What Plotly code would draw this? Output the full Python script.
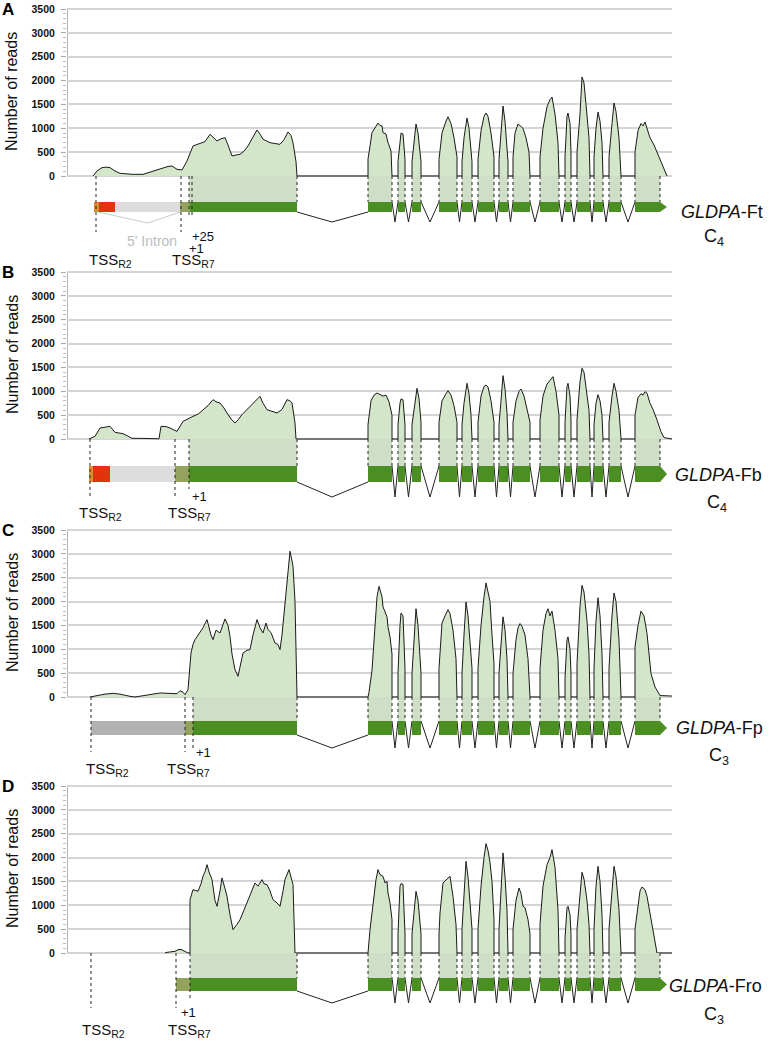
import plotly.graph_objects as go

# ---- read coverage (position, number of reads) for each library ----
COV_A = [
    # 5' region / first exon
    (93, 0), (97, 105), (102, 175), (106, 185), (110, 175), (115, 105), (120, 56), (127, 40),
    (133, 35), (143, 35), (153, 105), (158, 140), (163, 175), (168, 200), (172, 210), (177, 140),
    (182, 126), (187, 315), (193, 630), (200, 685), (205, 720), (210, 874), (213, 820), (217, 734),
    (221, 780), (225, 804), (228, 650), (232, 420), (236, 440), (240, 454), (244, 520), (248, 630),
    (252, 780), (257, 965), (260, 880), (263, 769), (266, 740), (270, 699), (275, 680), (280, 664),
    (284, 760), (288, 923), (291, 850), (293, 699), (296, 300), (297, 0),
    # exons 2..15
    (368, 0), (368, 350), (372, 910), (375, 1020), (378, 1110), (380, 1060), (382, 1050), (383, 910),
    (386, 880), (388, 700), (391, 525), (392, 0),
    (398, 0), (398, 300), (400, 800), (401, 900), (403, 880), (404, 600), (405, 350), (405, 0),
    (412, 0), (412, 300), (414, 700), (416, 1090), (418, 900), (420, 500), (421, 300), (421, 0),
    (439, 0), (439, 350), (442, 900), (446, 1150), (448, 1240), (451, 1100), (454, 800), (457, 400), (457, 0),
    (462, 0), (462, 300), (464, 800), (467, 1215), (469, 1000), (471, 600), (472, 300), (472, 0),
    (478, 0), (478, 350), (481, 950), (484, 1250), (486, 1320), (488, 1250), (491, 900), (494, 400), (494, 0),
    (499, 0), (499, 350), (501, 900), (503, 1467), (505, 1150), (507, 600), (508, 300), (508, 0),
    (513, 0), (513, 400), (515, 900), (518, 1090), (520, 1050), (523, 1000), (526, 800), (529, 500), (530, 0),
    (540, 0), (540, 400), (543, 1000), (547, 1450), (550, 1600), (552, 1655), (555, 1300), (558, 700), (559, 0),
    (565, 0), (565, 400), (567, 1250), (568, 1320), (570, 1100), (571, 500), (571, 0),
    (577, 0), (577, 500), (580, 1300), (582, 2075), (584, 1950), (586, 1500), (589, 800), (590, 0),
    (594, 0), (594, 400), (596, 1000), (598, 1340), (600, 1150), (602, 700), (603, 0),
    (609, 0), (609, 400), (612, 1100), (614, 1530), (616, 1350), (619, 800), (621, 0),
    (635, 0), (635, 500), (638, 950), (641, 1100), (643, 1050), (645, 1130), (647, 1000), (650, 800),
    (654, 650), (658, 450), (662, 250), (667, 0),
]

COV_B = [
    (89, 0), (95, 56), (100, 230), (105, 250), (110, 265), (115, 140), (120, 120), (123, 112),
    (128, 60), (132, 14), (140, 14), (153, 14), (159, 5), (161, 265), (166, 260), (170, 230),
    (177, 160), (183, 370), (188, 430), (193, 475), (198, 520), (203, 615), (208, 700), (213, 825),
    (216, 780), (220, 755), (224, 650), (227, 545), (231, 420), (235, 335), (238, 400), (242, 510),
    (247, 620), (252, 720), (256, 800), (260, 895), (263, 750), (267, 615), (272, 580), (277, 545),
    (282, 620), (287, 825), (290, 800), (292, 755), (295, 335), (296, 0),
    (368, 0), (368, 300), (371, 800), (374, 920), (377, 965), (380, 940), (383, 900), (386, 920),
    (389, 780), (392, 500), (392, 0),
    (398, 0), (398, 300), (400, 750), (401, 840), (403, 820), (404, 550), (405, 300), (405, 0),
    (412, 0), (412, 300), (414, 650), (417, 1063), (419, 850), (421, 350), (421, 0),
    (439, 0), (439, 350), (442, 800), (446, 950), (448, 1013), (451, 920), (454, 700), (457, 350), (457, 0),
    (462, 0), (462, 300), (464, 750), (467, 1167), (469, 950), (471, 500), (472, 0),
    (478, 0), (478, 350), (481, 900), (484, 1100), (486, 1132), (488, 1090), (491, 800), (494, 350), (494, 0),
    (499, 0), (499, 300), (501, 800), (503, 1328), (505, 1050), (507, 550), (508, 0),
    (513, 0), (513, 350), (516, 800), (519, 1000), (521, 1048), (524, 900), (527, 650), (530, 350), (530, 0),
    (540, 0), (540, 400), (543, 900), (547, 1150), (551, 1250), (553, 1307), (556, 1000), (559, 500), (559, 0),
    (565, 0), (565, 350), (567, 1100), (568, 1167), (570, 900), (571, 400), (571, 0),
    (577, 0), (577, 400), (580, 1200), (582, 1482), (584, 1400), (586, 1100), (589, 600), (590, 0),
    (594, 0), (594, 300), (596, 750), (598, 930), (600, 800), (602, 500), (603, 0),
    (609, 0), (609, 350), (612, 900), (614, 1167), (616, 1000), (619, 600), (621, 0),
    (635, 0), (635, 500), (638, 870), (641, 950), (643, 920), (645, 993), (647, 960), (650, 750),
    (653, 620), (657, 400), (661, 150), (664, 30), (667, 20), (672, 0),
]

COV_C = [
    (90, 0), (100, 49), (105, 60), (113, 77), (120, 60), (130, 14), (135, 0), (138, 10), (143, 28),
    (150, 50), (160, 84), (170, 75), (177, 70), (180, 133), (183, 100), (185, 49), (188, 154),
    (191, 923), (193, 1100), (195, 1202), (198, 1300), (200, 1342), (203, 1450), (207, 1622),
    (209, 1450), (211, 1300), (213, 1202), (216, 1400), (220, 1342), (223, 1500), (225, 1636),
    (228, 1500), (230, 1272), (232, 900), (235, 573), (238, 433), (241, 700), (243, 923), (247, 980),
    (250, 993), (253, 1300), (257, 1622), (260, 1450), (263, 1342), (266, 1550), (268, 1412),
    (271, 1350), (275, 1132), (278, 1100), (280, 993), (282, 1300), (285, 1971), (288, 2700),
    (290, 3055), (292, 2850), (293, 2740), (295, 2000), (297, 0),
    (368, 0), (369, 100), (372, 560), (373, 910), (375, 1600), (377, 2100), (379, 2320), (382, 2100),
    (383, 1890), (387, 1680), (388, 1470), (390, 1260), (392, 900), (392, 0),
    (398, 0), (398, 500), (400, 1500), (401, 1760), (403, 1700), (404, 1100), (405, 600), (405, 0),
    (412, 0), (412, 500), (414, 1200), (416, 1850), (418, 1500), (420, 900), (421, 500), (421, 0),
    (439, 0), (439, 600), (442, 1550), (445, 1700), (448, 1830), (450, 1750), (453, 1400), (456, 800), (457, 0),
    (462, 0), (462, 500), (464, 1300), (466, 1990), (468, 1700), (470, 1100), (472, 600), (472, 0),
    (478, 0), (478, 600), (481, 1500), (484, 2100), (486, 2390), (488, 2200), (490, 2000), (492, 1300),
    (494, 700), (494, 0),
    (499, 0), (499, 500), (501, 1200), (503, 1680), (505, 1400), (507, 800), (508, 0),
    (513, 0), (513, 500), (516, 1200), (518, 1450), (520, 1540), (522, 1480), (525, 1300), (528, 800), (530, 0),
    (540, 0), (540, 600), (543, 1400), (546, 1750), (548, 1850), (550, 1700), (552, 1800), (555, 1400),
    (558, 800), (559, 0),
    (565, 0), (565, 400), (567, 1200), (568, 1260), (570, 1000), (571, 500), (571, 0),
    (577, 0), (577, 700), (580, 1900), (582, 2340), (584, 2200), (587, 1600), (589, 900), (590, 0),
    (594, 0), (594, 600), (596, 1600), (598, 2080), (600, 1700), (602, 900), (603, 0),
    (609, 0), (609, 600), (612, 1700), (614, 2180), (616, 2000), (619, 1200), (621, 0),
    (635, 0), (635, 1050), (638, 1500), (641, 1800), (644, 1700), (647, 1330), (649, 900), (651, 490),
    (655, 210), (660, 30), (672, 20),
]

COV_D = [
    (165, 0), (167, 14), (175, 35), (178, 70), (181, 75), (184, 40), (186, 14), (188, 0), (190, 0),
    (190, 1118), (193, 1328), (196, 1300), (198, 1293), (201, 1450), (203, 1608), (205, 1700),
    (207, 1852), (209, 1700), (212, 1538), (215, 1100), (217, 979), (220, 1300), (222, 1573),
    (225, 1350), (227, 1188), (230, 800), (233, 489), (237, 600), (240, 699), (244, 900), (247, 1049),
    (251, 1250), (255, 1468), (258, 1400), (262, 1538), (264, 1450), (267, 1433), (270, 1300),
    (273, 1118), (277, 1050), (280, 979), (283, 1300), (285, 1538), (289, 1748), (291, 1600),
    (293, 1433), (295, 0),
    (368, 0), (370, 490), (373, 1050), (376, 1540), (378, 1748), (380, 1643), (383, 1608), (385, 1468),
    (387, 1503), (388, 1258), (390, 1049), (392, 700), (392, 0),
    (398, 0), (398, 400), (400, 1400), (401, 1454), (403, 1440), (404, 900), (405, 400), (405, 0),
    (412, 0), (412, 400), (414, 900), (416, 1293), (418, 1100), (420, 700), (421, 400), (421, 0),
    (439, 0), (439, 400), (440, 840), (443, 1468), (447, 1538), (450, 1608), (453, 1188), (456, 600), (457, 0),
    (462, 0), (462, 500), (464, 1300), (466, 1922), (468, 1600), (470, 1000), (472, 500), (472, 0),
    (478, 0), (478, 500), (481, 1400), (484, 2000), (486, 2293), (488, 2150), (490, 1900), (492, 1500),
    (494, 700), (494, 0),
    (499, 0), (499, 500), (501, 1300), (503, 2097), (505, 1600), (507, 900), (508, 0),
    (513, 0), (513, 500), (516, 1100), (519, 1363), (521, 1250), (523, 980), (525, 950), (528, 700),
    (530, 400), (530, 0),
    (540, 0), (540, 600), (543, 1400), (547, 1850), (550, 2000), (552, 2167), (555, 1800), (558, 900), (559, 0),
    (565, 0), (565, 300), (567, 950), (568, 979), (570, 800), (571, 400), (571, 0),
    (577, 0), (577, 500), (580, 1300), (582, 1692), (584, 1550), (587, 1100), (589, 600), (590, 0),
    (594, 0), (594, 500), (596, 1400), (598, 1817), (600, 1500), (602, 800), (603, 0),
    (609, 0), (609, 500), (612, 1400), (614, 1817), (616, 1600), (619, 900), (621, 0),
    (635, 0), (635, 500), (638, 1000), (640, 1300), (642, 1384), (645, 1328), (647, 1188), (650, 839),
    (653, 489), (656, 200), (657, 0), (672, 0),
]

# ---- gene model ----
EXON_START = [368, 398, 412, 439, 462, 478, 499, 513, 540, 565, 577, 594, 609, 635]
EXON_END = [392, 405, 421, 457, 472, 494, 508, 530, 559, 571, 590, 603, 621, 660]
FIRST_EXON_END = 297
ARROW_TIP = 667

FEATURES_A = [('tss2', 94, 99), ('r2', 99, 115), ('intron', 115, 180), ('r7', 180, 190), ('cds', 190, 297)]
FEATURES_B = [('tss2', 89, 93), ('r2', 93, 110), ('intron', 110, 175), ('r7', 175, 189), ('cds', 189, 297)]
FEATURES_C = [('upstream', 91, 185), ('r7', 185, 193), ('cds', 193, 297)]
FEATURES_D = [('r7', 176, 190), ('cds', 190, 297)]

TSS_A = {'R2': 96, 'R7': 181, '+1': 189, '+25': 192}
TSS_B = {'R2': 90, 'R7': 175, '+1': 189}
TSS_C = {'R2': 91, 'R7': 185, '+1': 193}
TSS_D = {'R2': 91, 'R7': 176, '+1': 190}

PANEL_LETTERS = ['A', 'B', 'C', 'D']
GENE_SUFFIX = ['Ft', 'Fb', 'Fp', 'Fro']
PATHWAY = ['4', '4', '3', '3']
Y_TICKS = [0, 500, 1000, 1500, 2000, 2500, 3000, 3500]

# ---- layout constants (pixels) ----
W, H = 769, 1041
X0, X1 = 67, 672
UPP = 3500 / 167          # reads per pixel
ZERO_PX = [176, 439, 697, 953]
GEO = [
    dict(bar=(26, 36), v=46, tss=56, plus=42),
    dict(bar=(27, 43), v=58, tss=57, plus=50),
    dict(bar=(24, 38), v=51, tss=55, plus=53),
    dict(bar=(25, 38), v=50, tss=55, plus=47),
]
LABEL_POS = [
    dict(R2=(111, 84), R7=(193, 84), p1=(196, 72), p25=(203, 60), intron=(152, 65)),
    dict(R2=(100, 75), R7=(189, 75), p1=(199, 57)),
    dict(R2=(107, 72), R7=(188, 72), p1=(203, 55)),
    dict(R2=(103, 77), R7=(189, 77), p1=(188, 59)),
]
NAME_POS = [((722, 212), (714, 238)), ((718, 475), (717, 503)),
            ((719, 728), (719, 756)), ((715, 986), (714, 1015))]

COLORS = dict(tss2='#e5892e', r2='#e2320e', intron='#dcdcdc', upstream='#b2b2b2',
              r7='#93a35d', cds='#4b8f22')
SHADE = '#cfdfc7'
FILL = '#d3e6ca'
FONT = 'Liberation Sans, Arial, sans-serif'


def below(off):
    return -off * UPP


def paper_text(px, py, text, size, color='#111', **kw):
    return dict(x=px / W, y=1 - py / H, xref='paper', yref='paper', xanchor='center',
                yanchor='middle', showarrow=False, text=text,
                font=dict(family=FONT, size=size, color=color), **kw)


fig = go.Figure()
shapes, annotations = [], []
covs = [COV_A, COV_B, COV_C, COV_D]
feats = [FEATURES_A, FEATURES_B, FEATURES_C, FEATURES_D]
tsss = [TSS_A, TSS_B, TSS_C, TSS_D]
minor_vals = [v for v in range(100, 3500, 100) if v % 500]

for i in range(4):
    xa = 'x' if i == 0 else f'x{i + 1}'
    ya = 'y' if i == 0 else f'y{i + 1}'
    y0 = ZERO_PX[i]
    g = GEO[i]
    bt, bb, vb = below(g['bar'][0]), below(g['bar'][1]), below(g['v'])
    tss = tsss[i]
    ref = dict(xref=xa, yref=ya)

    xs = [p[0] for p in covs[i]]
    ys = [p[1] for p in covs[i]]
    fig.add_trace(go.Scatter(
        x=xs, y=ys, mode='lines', line=dict(color='#1a1a1a', width=1),
        fill='tozeroy', fillcolor=FILL, xaxis=xa, yaxis=ya,
        hoverinfo='skip', showlegend=False))

    # axis lines
    shapes.append(dict(type='line', x0=X0, x1=X1, y0=0, y1=0, layer='below',
                       line=dict(color='#8a8a8a', width=1), **ref))
    shapes.append(dict(type='line', x0=X0 + 0.5, x1=X0 + 0.5, y0=0, y1=3500, layer='below',
                       line=dict(color='#b5b5b5', width=1), **ref))

    # shaded exon projections + dotted boundaries
    blocks = [(tss['+1'], FIRST_EXON_END)] + list(zip(EXON_START, EXON_END))
    for s, e in blocks:
        shapes.append(dict(type='rect', x0=s, x1=e, y0=0, y1=bt, fillcolor=SHADE,
                           line=dict(width=0), **ref))
    for k, (s, e) in enumerate(blocks):
        for xx in ([e] if k == 0 else [s, e]):
            shapes.append(dict(type='line', x0=xx, x1=xx, y0=0, y1=bt,
                               line=dict(color='#222', width=1, dash='dot'), **ref))

    # introns
    shapes.append(dict(type='path',
                       path=f'M {FIRST_EXON_END},{bb} L 332,{vb} L {EXON_START[0]},{bb}',
                       line=dict(color='#222', width=1), **ref))
    for k in range(len(EXON_START) - 1):
        e, s = EXON_END[k], EXON_START[k + 1]
        m = (e + s) / 2
        shapes.append(dict(type='path', path=f'M {e},{bt} L {m},{vb} L {s},{bt}',
                           line=dict(color='#222', width=1), **ref))
    if i == 0:
        shapes.append(dict(type='path', path=f'M 98,{bb} L 148,{below(g["bar"][1] + 11)} L 180,{bb}',
                           line=dict(color='#c8c8c8', width=1), **ref))

    # bars
    for kind, s, e in feats[i]:
        shapes.append(dict(type='rect', x0=s, x1=e, y0=bb, y1=bt, fillcolor=COLORS[kind],
                           line=dict(width=0), **ref))
    for s, e in zip(EXON_START[:-1], EXON_END[:-1]):
        shapes.append(dict(type='rect', x0=s, x1=e, y0=bb, y1=bt, fillcolor=COLORS['cds'],
                           line=dict(width=0), **ref))
    s, e = EXON_START[-1], EXON_END[-1]
    shapes.append(dict(type='path',
                       path=f'M {s},{bt} L {e},{bt} L {ARROW_TIP},{(bt + bb) / 2} L {e},{bb} L {s},{bb} Z',
                       fillcolor=COLORS['cds'], line=dict(width=0), **ref))

    # TSS dotted markers
    for key, val in tss.items():
        end = g['tss'] if key in ('R2', 'R7') else g['plus']
        shapes.append(dict(type='line', x0=val, x1=val, y0=0, y1=below(end),
                           line=dict(color='#222', width=1, dash='dot'), **ref))

    lp = LABEL_POS[i]
    for key, txt in (('R2', 'TSS<sub>R2</sub>'), ('R7', 'TSS<sub>R7</sub>')):
        px, off = lp[key]
        annotations.append(paper_text(px, y0 + off, txt, 15))
    px, off = lp['p1']
    annotations.append(paper_text(px, y0 + off, '+1', 13))
    if 'p25' in lp:
        px, off = lp['p25']
        annotations.append(paper_text(px, y0 + off, '+25', 13))
        px, off = lp['intron']
        annotations.append(paper_text(px, y0 + off, "5' Intron", 14, color='#bdbdbd'))

    # names, panel letter, axis title
    (nx, ny), (cx, cy) = NAME_POS[i]
    annotations.append(paper_text(nx, ny, f'<i>GLDPA</i>-{GENE_SUFFIX[i]}', 18))
    annotations.append(paper_text(cx, cy, f'C<sub>{PATHWAY[i]}</sub>', 18))
    annotations.append(paper_text(8, y0 - 167, f'<b>{PANEL_LETTERS[i]}</b>', 17, color='#000'))
    annotations.append(paper_text(12, y0 - 84, 'Number of reads', 16, textangle=-90))

    fig.layout[f'xaxis{"" if i == 0 else i + 1}'] = dict(
        domain=[X0 / W, X1 / W], range=[X0, X1], visible=False, anchor=ya, fixedrange=True)
    fig.layout[f'yaxis{"" if i == 0 else i + 1}'] = dict(
        domain=[1 - (y0 + 62) / H, 1 - (y0 - 172) / H],
        range=[below(62), 172 * UPP], anchor=xa,
        tickvals=Y_TICKS, showgrid=True, gridcolor='#d4d4d4', gridwidth=1.5,
        zeroline=False, showline=False,
        ticks='outside', ticklen=5, tickcolor='#aaa', ticklabelstandoff=4,
        tickfont=dict(family=FONT, size=10.5, color='#111', weight='bold'),
        minor=dict(tickvals=minor_vals, ticks='outside', ticklen=3, tickcolor='#bbb', showgrid=False))

fig.update_layout(
    width=W, height=H, margin=dict(l=0, r=0, t=0, b=0),
    plot_bgcolor='white', paper_bgcolor='white',
    shapes=shapes, annotations=annotations, showlegend=False)

fig.write_html("out.html", config={'displayModeBar': False},
               post_script="document.body.style.margin='0';")
